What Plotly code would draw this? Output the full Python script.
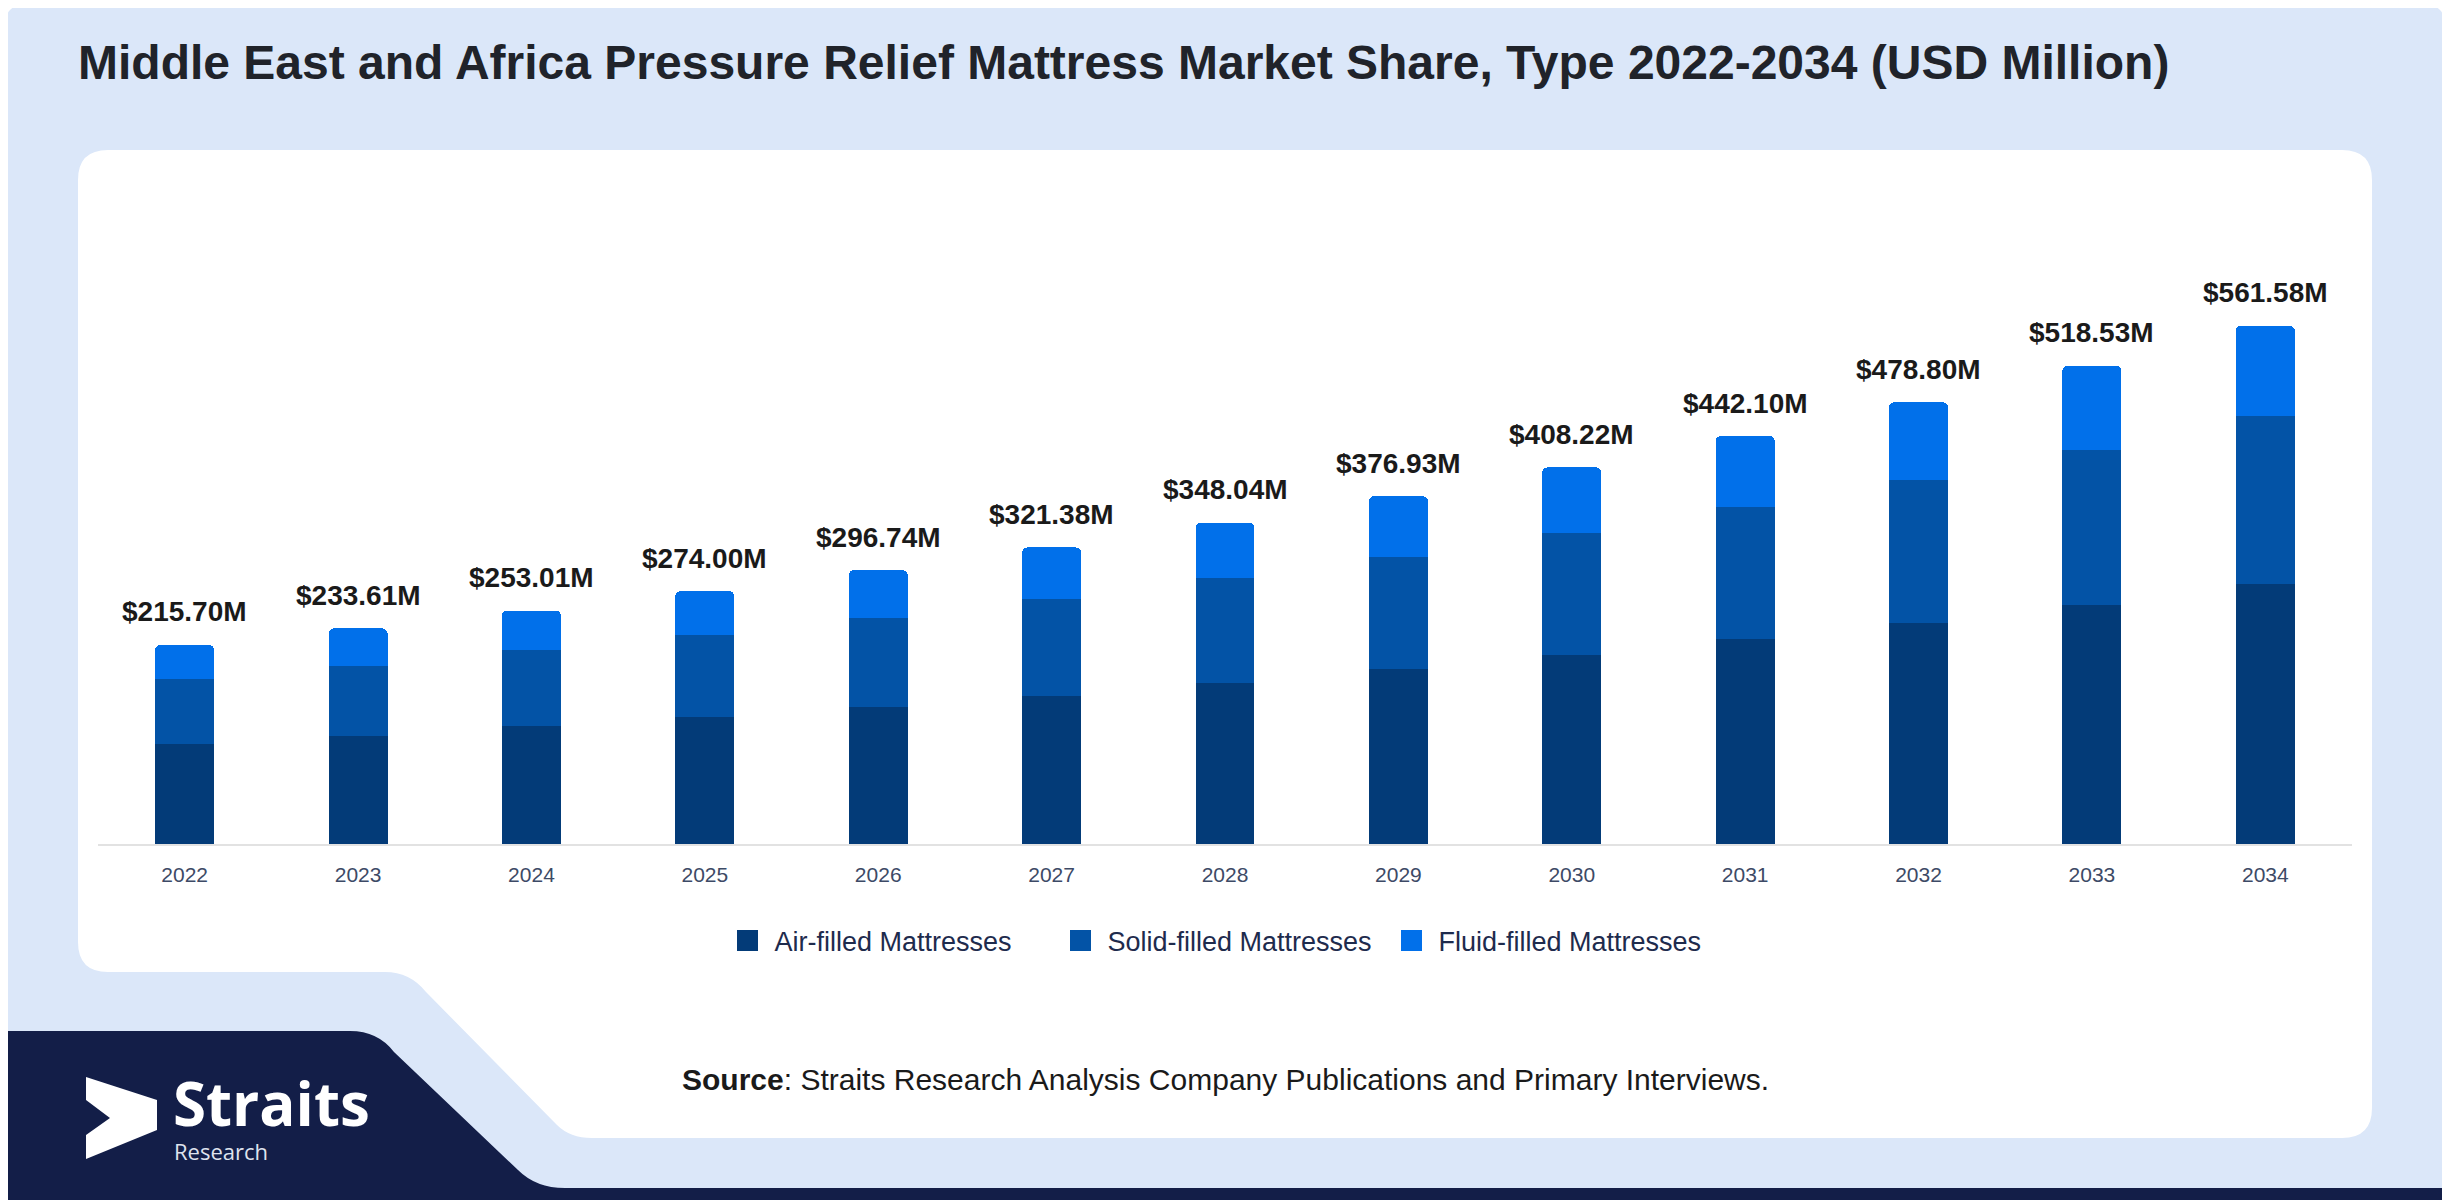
import plotly.graph_objects as go

years = ["2022", "2023", "2024", "2025", "2026", "2027", "2028",
         "2029", "2030", "2031", "2032", "2033", "2034"]
air_filled = [108.9, 117.4, 127.5, 137.3, 148.7, 160.7, 174.7,
              189.3, 205.3, 221.9, 239.8, 259.3, 281.3]
solid_filled = [69.7, 75.0, 82.3, 88.8, 96.4, 104.7, 113.8,
                122.1, 131.5, 143.2, 155.1, 168.0, 182.1]
fluid_filled = [37.1, 41.21, 43.21, 47.9, 51.64, 55.98, 59.54,
                65.53, 71.42, 77.0, 83.9, 91.23, 98.18]
totals = [215.70, 233.61, 253.01, 274.00, 296.74, 321.38, 348.04,
          376.93, 408.22, 442.10, 478.80, 518.53, 561.58]

series = [
    ("Air-filled Mattresses", air_filled, "#033b78", 274),
    ("Solid-filled Mattresses", solid_filled, "#0353a6", 272),
    ("Fluid-filled Mattresses", fluid_filled, "#0170ea", 268),
]

W, H = 2450, 1200
OFF = 8  # page body margin shifts the figure by 8px
ML, MT = 98 - OFF, 200 - OFF
PW, PH = 2254, 644
MR, MB = W - ML - PW, H - MT - PH
FONT = "Liberation Sans, Arial, sans-serif"


def px(x):
    return (x - OFF - ML) / PW


def py(y):
    return (MT + PH - (y - OFF)) / PH


def path(cmds):
    # cmds: list of (letter, [x, y, ...]) in screen pixels -> paper path
    out = []
    for c, pts in cmds:
        if c == "Z":
            out.append("Z")
            continue
        xy = [f"{px(pts[i]):.5f},{py(pts[i + 1]):.5f}" for i in range(0, len(pts), 2)]
        out.append(c + " ".join(xy))
    return " ".join(out)


fig = go.Figure()

for name, vals, color, lw in series:
    fig.add_trace(go.Bar(
        x=years, y=vals, name=name, marker_color=color,
        marker_line_width=0, showlegend=False, hoverinfo="skip",
        legendgroup=name,
    ))
    # legend key (bigger square than the bar icon)
    fig.add_trace(go.Scatter(
        x=[years[0]], y=[None], mode="markers", name=name, legendgroup=name,
        legendwidth=lw,
        marker=dict(symbol="square", size=16, color=color,
                    line=dict(width=5, color=color)),
        hoverinfo="skip",
    ))

for i, t in enumerate(totals):
    fig.add_annotation(
        x=i, y=t, text=f"${t:.2f}M", showarrow=False,
        yanchor="middle", yshift=33,
        font=dict(family=FONT, size=28, color="#1a1a1a", weight="bold"),
    )

shapes = []
# light blue page
shapes.append(dict(type="path", xref="paper", yref="paper", layer="below",
                   fillcolor="#dbe7f9", line_width=0,
                   path=path([("M", [40, 0]), ("L", [2410, 0]), ("Q", [2450, 0, 2450, 40]),
                              ("L", [2450, 1200]), ("L", [0, 1200]), ("L", [0, 40]),
                              ("Q", [0, 0, 40, 0]), ("Z", [])])))
# white panel
shapes.append(dict(type="path", xref="paper", yref="paper", layer="below",
                   fillcolor="white", line_width=0,
                   path=path([("M", [108, 150]), ("L", [2342, 150]), ("Q", [2372, 150, 2372, 180]),
                              ("L", [2372, 1108]), ("Q", [2372, 1138, 2342, 1138]),
                              ("L", [592, 1138]), ("Q", [570, 1138, 557, 1125]),
                              ("L", [426, 992]), ("Q", [410, 972, 385, 972]),
                              ("L", [108, 972]), ("Q", [78, 972, 78, 942]),
                              ("L", [78, 180]), ("Q", [78, 150, 108, 150]), ("Z", [])])))
# navy footer band
shapes.append(dict(type="path", xref="paper", yref="paper", layer="below",
                   fillcolor="#131e48", line_width=0,
                   path=path([("M", [0, 1031]), ("L", [350, 1031]), ("Q", [378, 1031, 394, 1052]),
                              ("L", [518, 1170]), ("Q", [536, 1188, 565, 1188]),
                              ("L", [2450, 1188]), ("L", [2450, 1200]), ("L", [0, 1200]),
                              ("Z", [])])))
# logo arrow
shapes.append(dict(type="path", xref="paper", yref="paper", layer="above",
                   fillcolor="white", line_width=0,
                   path=path([("M", [86, 1077]), ("L", [157, 1100]), ("L", [157, 1130]),
                              ("L", [86, 1159]), ("L", [86, 1135]), ("L", [110, 1118]),
                              ("L", [86, 1100]), ("Z", [])])))

fig.add_annotation(xref="paper", yref="paper", x=px(171), y=py(1103),
                   xanchor="left", yanchor="middle", showarrow=False, text="Straits",
                   font=dict(family="Open Sans, sans-serif", size=60, color="white", weight="bold"))
fig.add_annotation(xref="paper", yref="paper", x=px(172), y=py(1151),
                   xanchor="left", yanchor="middle", showarrow=False, text="Research",
                   font=dict(family="Open Sans, sans-serif", size=22, color="#dfe3ee"))
fig.add_annotation(xref="paper", yref="paper", x=px(1225), y=py(1079),
                   xanchor="center", yanchor="middle", showarrow=False,
                   text="<b>Source</b>: Straits Research Analysis Company Publications and Primary Interviews.",
                   font=dict(family=FONT, size=30, color="#1a1a1a"))

fig.update_layout(
    width=W, height=H,
    margin=dict(l=ML, r=MR, t=MT, b=MB),
    paper_bgcolor="white",
    plot_bgcolor="rgba(0,0,0,0)",
    barmode="stack",
    bargap=0.66,
    barcornerradius=5,
    shapes=shapes,
    font=dict(family=FONT),
    title=dict(
        text="<b>Middle East and Africa Pressure Relief Mattress Market Share, Type 2022-2034 (USD Million)</b>",
        x=(78 - OFF) / W, xanchor="left", y=1 - 54 / H, yanchor="middle",
        font=dict(family=FONT, size=48, color="#20232a"),
    ),
    legend=dict(
        orientation="h", x=px(1216), xanchor="center", y=py(941), yanchor="middle",
        traceorder="normal", itemwidth=44,
        font=dict(family=FONT, size=27, color="#1e2b4d"),
        bgcolor="rgba(0,0,0,0)", itemclick=False, itemdoubleclick=False,
    ),
    xaxis=dict(
        type="category", categoryorder="array", categoryarray=years,
        range=[-0.5, len(years) - 0.5], autorange=False,
        showline=True, linecolor="#e2e2e2", linewidth=2,
        showgrid=False, ticks="", ticklabelstandoff=11,
        tickfont=dict(family=FONT, size=21, color="#3d4a66"),
    ),
    yaxis=dict(visible=False, range=[0, 698], autorange=False, showgrid=False),
)

fig.write_html("out.html")
